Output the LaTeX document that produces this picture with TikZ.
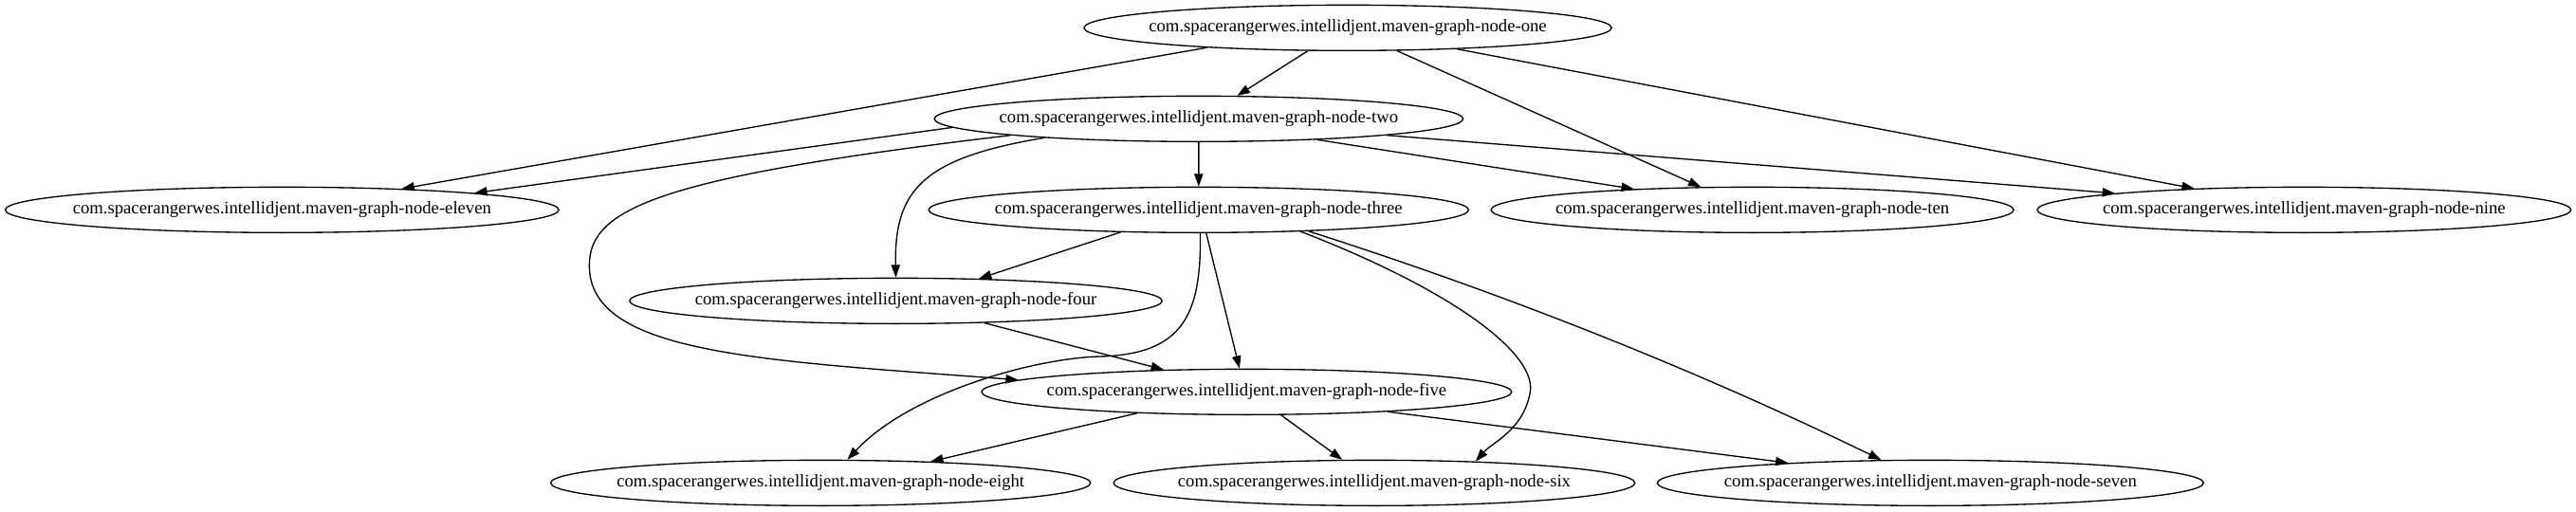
\documentclass[tikz,border=0pt]{standalone}
\usepackage{fontspec}
\setmainfont{Liberation Serif}
\usetikzlibrary{shapes.geometric,arrows.meta}
\begin{document}
\begin{tikzpicture}[x=1pt,y=1pt,
  gv/.style={ellipse, draw, line width=1pt, inner sep=0pt, minimum height=36pt,
    font=\fontsize{14pt}{16.8pt}\selectfont},
  gvedge/.style={line width=1pt, -{Triangle[length=10pt,width=7pt]}}]
\path[fill=white] (0,0) rectangle (2037,-404.25);
\node[gv, minimum width=417.1pt] (one)    at (1065.75,-22) {\makebox[0pt]{com.spacerangerwes.intellidjent.maven-graph-node-one}};
\node[gv, minimum width=418.1pt] (two)    at (947.9,-94)   {\makebox[0pt]{com.spacerangerwes.intellidjent.maven-graph-node-two}};
\node[gv, minimum width=437.7pt] (eleven) at (223,-166)    {\makebox[0pt]{com.spacerangerwes.intellidjent.maven-graph-node-eleven}};
\node[gv, minimum width=426.9pt] (three)  at (947.85,-166) {\makebox[0pt]{com.spacerangerwes.intellidjent.maven-graph-node-three}};
\node[gv, minimum width=413.2pt] (ten)    at (1385.7,-166) {\makebox[0pt]{com.spacerangerwes.intellidjent.maven-graph-node-ten}};
\node[gv, minimum width=422.0pt] (nine)   at (1822,-166)   {\makebox[0pt]{com.spacerangerwes.intellidjent.maven-graph-node-nine}};
\node[gv, minimum width=421.0pt] (four)   at (708.4,-238)  {\makebox[0pt]{com.spacerangerwes.intellidjent.maven-graph-node-four}};
\node[gv, minimum width=419.1pt] (five)   at (985.8,-310)  {\makebox[0pt]{com.spacerangerwes.intellidjent.maven-graph-node-five}};
\node[gv, minimum width=426.9pt] (eight)  at (648.9,-382)  {\makebox[0pt]{com.spacerangerwes.intellidjent.maven-graph-node-eight}};
\node[gv, minimum width=412.2pt] (six)    at (1086.7,-382) {\makebox[0pt]{com.spacerangerwes.intellidjent.maven-graph-node-six}};
\node[gv, minimum width=431.9pt] (seven)  at (1526.5,-382) {\makebox[0pt]{com.spacerangerwes.intellidjent.maven-graph-node-seven}};
% one
\draw[gvedge] (one.210.9) -- (two.31.5);
\draw[gvedge] (one.188.8) -- (eleven.10.2);
\draw[gvedge] (one.335.8) -- (ten.156.6);
\draw[gvedge] (one.349.4) -- (nine.169.3);
% two
\draw[gvedge] (two.182.6) -- (eleven.5.6);
\draw[gvedge] (two.south) -- (three.north);
\draw[gvedge] (two.350.8) -- (ten.170.5);
\draw[gvedge] (two.355.4) -- (nine.175.4);
\draw[gvedge] (two.187.8) .. controls (730,-125) and (707,-150) .. (four.north);
\draw[gvedge] (two.185.5) .. controls (520,-140) and (466,-165) .. (466,-210)
  .. controls (466,-280) and (600,-285) .. (five.177.7);
% three
\draw[gvedge] (three.196.7) -- (four.15.6);
\draw[gvedge] (three.288.9) -- (five.107.9);
\draw[gvedge] (three.274.9) .. controls (950,-250) and (935,-280) .. (870,-282)
  .. controls (820,-283) and (720,-310) .. (eight.41.2);
\draw[gvedge] (three.348.6) .. controls (1150,-230) and (1215,-280) .. (1210,-310)
  .. controls (1205,-340) and (1180,-350) .. (six.12.9);
\draw[gvedge] (three.349.0) .. controls (1188.6,-232) and (1340.2,-292) .. (seven.155.3);
% four
\draw[gvedge] (four.346.0) -- (five.165.3);
% five
\draw[gvedge] (five.191.95) -- (eight.11.95);
\draw[gvedge] (five.326.2) -- (six.144.1);
\draw[gvedge] (five.352.9) -- (seven.172.6);
\end{tikzpicture}
\end{document}
